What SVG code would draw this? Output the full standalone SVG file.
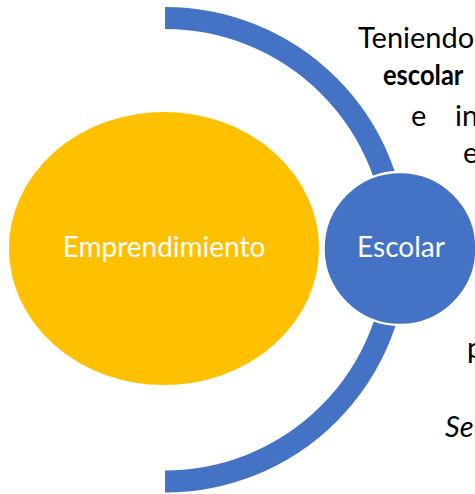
<svg xmlns="http://www.w3.org/2000/svg" width="475" height="494" viewBox="0 0 475 494">
<style>
.lbl{font-family:Lato,"Open Sans","Liberation Sans",sans-serif;font-size:28px;fill:#ffffff;text-anchor:middle}
.body{font-family:Lato,"Open Sans","Liberation Sans",sans-serif;font-size:29px;fill:#000000}
.bold{font-weight:bold;font-size:29px}
</style>
<rect width="475" height="494" fill="#ffffff"/>
<g id="connectors">
<path d="M165,18 A231.75,231.75 0 0 1 165,481.5" fill="none" stroke="#4472C4" stroke-width="22"/>
</g>
<g id="node-emprendimiento">
<ellipse cx="164" cy="248.5" rx="156" ry="137.5" fill="#FFC000" stroke="#ffffff" stroke-width="2"/>
<text class="lbl" x="164" y="257">Emprendimiento</text>
</g>
<g id="node-escolar">
<circle cx="400" cy="248.5" r="76.5" fill="#4472C4" stroke="#ffffff" stroke-width="2.5"/>
<text class="lbl" x="401" y="257">Escolar</text>
</g>
<g id="side-text">
<text class="body" x="358" y="48">Teniendo</text>
<text class="body bold" transform="translate(383,85) scale(0.88,1)" x="0" y="0">escolar</text>
<text class="body" x="411" y="126">e</text>
<text class="body" x="455" y="126">in</text>
<text class="body" x="463" y="163">e</text>
<text class="body" x="467" y="358">p</text>
<text class="body" x="445" y="437" font-style="italic">Se</text>
</g>
</svg>
